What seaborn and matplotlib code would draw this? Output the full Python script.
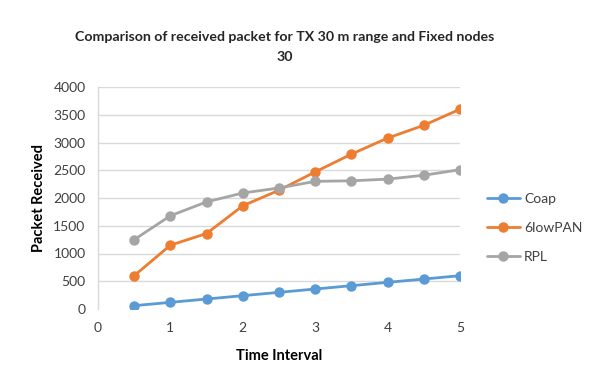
import matplotlib
matplotlib.use("Agg")
import matplotlib.pyplot as plt
import seaborn as sns
import pandas as pd

time_interval = [0.5, 1, 1.5, 2, 2.5, 3, 3.5, 4, 4.5, 5]
coap = [60, 120, 180, 240, 300, 360, 420, 480, 540, 600]
lowpan = [600, 1150, 1360, 1860, 2140, 2470, 2790, 3080, 3310, 3600]
rpl = [1250, 1680, 1930, 2090, 2180, 2300, 2310, 2340, 2410, 2510]
series_names = ["Coap", "6lowPAN", "RPL"]
colors = ["#5B9BD5", "#ED7D31", "#A5A5A5"]
x_ticks = [0, 1, 2, 3, 4, 5]
y_ticks = [0, 500, 1000, 1500, 2000, 2500, 3000, 3500, 4000]

df = pd.DataFrame({
    "Time Interval": time_interval * 3,
    "Packet Received": coap + lowpan + rpl,
    "Series": [s for s in series_names for _ in time_interval],
})

sns.set_theme(style="white")
plt.rcParams["font.family"] = ["Lato", "DejaVu Sans"]

fig = plt.figure(figsize=(5.91, 3.84), dpi=100)
ax = fig.add_axes([98 / 591, 1 - 309 / 384, 362 / 591, 222 / 384])

sns.lineplot(data=df, x="Time Interval", y="Packet Received", hue="Series",
             palette=colors, marker="o", markersize=7.5, markeredgewidth=0,
             linewidth=2.0, ax=ax, legend=True)

ax.set_xlim(0, 5)
ax.set_ylim(0, 4000)
ax.set_xticks(x_ticks)
ax.set_yticks(y_ticks)
ax.tick_params(axis="both", length=0, labelsize=10, colors="#404040", pad=9)
ax.grid(axis="y", color="#D9D9D9", linewidth=1)
ax.get_ygridlines()[0].set_visible(False)
for s in ["top", "right", "bottom"]:
    ax.spines[s].set_visible(False)
ax.spines["left"].set_color("#D9D9D9")
ax.spines["left"].set_linewidth(1)

ax.set_xlabel("Time Interval", fontsize=10.5, fontweight="bold", color="black", labelpad=11)
ax.set_ylabel("Packet Received", fontsize=10.5, fontweight="bold", color="black", labelpad=5)

handles, labels = ax.get_legend_handles_labels()
ax.legend(handles, labels, loc="center left", bbox_to_anchor=(474 / 591, 1 - 228 / 384),
          bbox_transform=fig.transFigure, frameon=False, fontsize=10,
          handlelength=2.4, labelspacing=1.2, handletextpad=0.3,
          labelcolor="#404040")

fig.text(285 / 591, 1 - 37 / 384, "Comparison of received packet for TX 30 m range and Fixed nodes",
         ha="center", va="center", fontsize=10.2, fontweight="bold")
fig.text(285 / 591, 1 - 57 / 384, "30", ha="center", va="center", fontsize=10.2, fontweight="bold")

fig.savefig("out.png", dpi=100, facecolor="white")
